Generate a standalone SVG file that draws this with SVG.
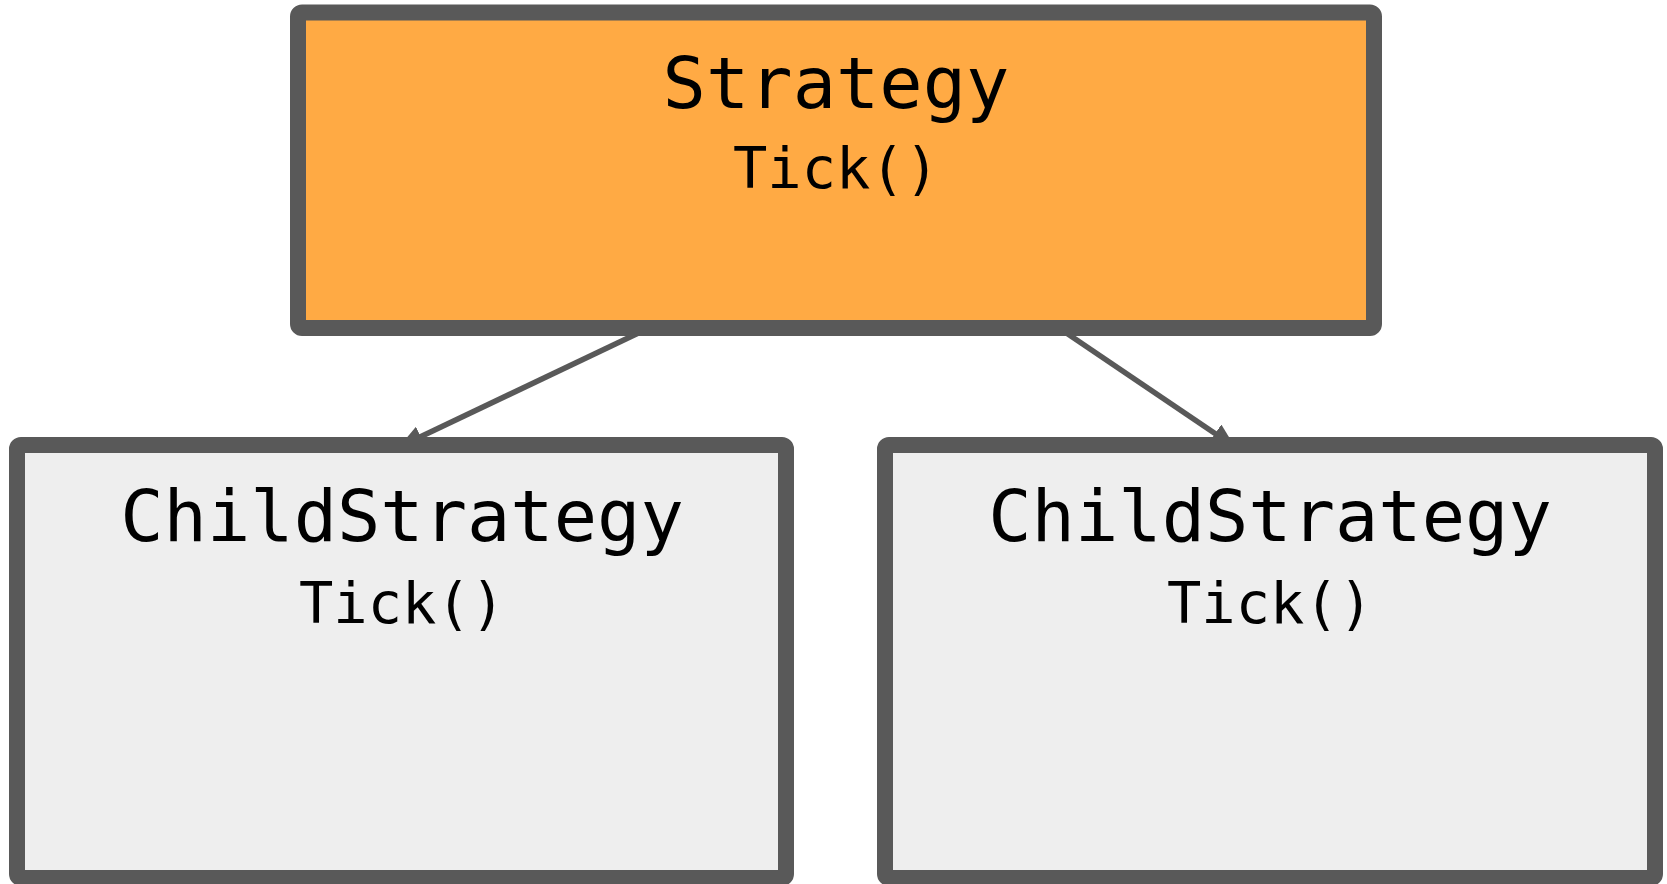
<svg xmlns="http://www.w3.org/2000/svg" width="1667" height="884" viewBox="0 0 1667 884">
  <style>
    .box { stroke: #595959; stroke-width: 16; stroke-linejoin: round; }
    .parent { fill: #FFAA44; }
    .child { fill: #EEEEEE; }
    .title { font-family: "DejaVu Sans Mono", "Liberation Mono", monospace; font-size: 72px; fill: #000; text-anchor: middle; }
    .method { font-family: "DejaVu Sans Mono", "Liberation Mono", monospace; font-size: 57px; fill: #000; text-anchor: middle; }
    .edge { stroke: #595959; stroke-width: 5.5; fill: none; }
  </style>
  <defs>
    <marker id="arrow" markerUnits="userSpaceOnUse" markerWidth="24" markerHeight="22" refX="24" refY="11" orient="auto">
      <path d="M0,0 L24,11 L0,22 z" fill="#595959"/>
    </marker>
  </defs>
  <rect width="1667" height="884" fill="#FFFFFF"/>
  <g id="connectors">
    <line class="edge" x1="649" y1="328" x2="399" y2="447" marker-end="url(#arrow)"/>
    <line class="edge" x1="1059" y1="328" x2="1235" y2="447" marker-end="url(#arrow)"/>
  </g>
  <g id="strategy">
    <rect class="box parent" x="298" y="12.5" width="1076" height="315.5" rx="4"/>
    <text class="title" x="836" y="108">Strategy</text>
    <text class="method" x="836" y="188">Tick()</text>
  </g>
  <g id="child-left">
    <rect class="box child" x="17" y="445" width="769" height="433" rx="4"/>
    <text class="title" x="402" y="541">ChildStrategy</text>
    <text class="method" x="402" y="623">Tick()</text>
  </g>
  <g id="child-right">
    <rect class="box child" x="885" y="445" width="770" height="433" rx="4"/>
    <text class="title" x="1270" y="541">ChildStrategy</text>
    <text class="method" x="1270" y="623">Tick()</text>
  </g>
</svg>
